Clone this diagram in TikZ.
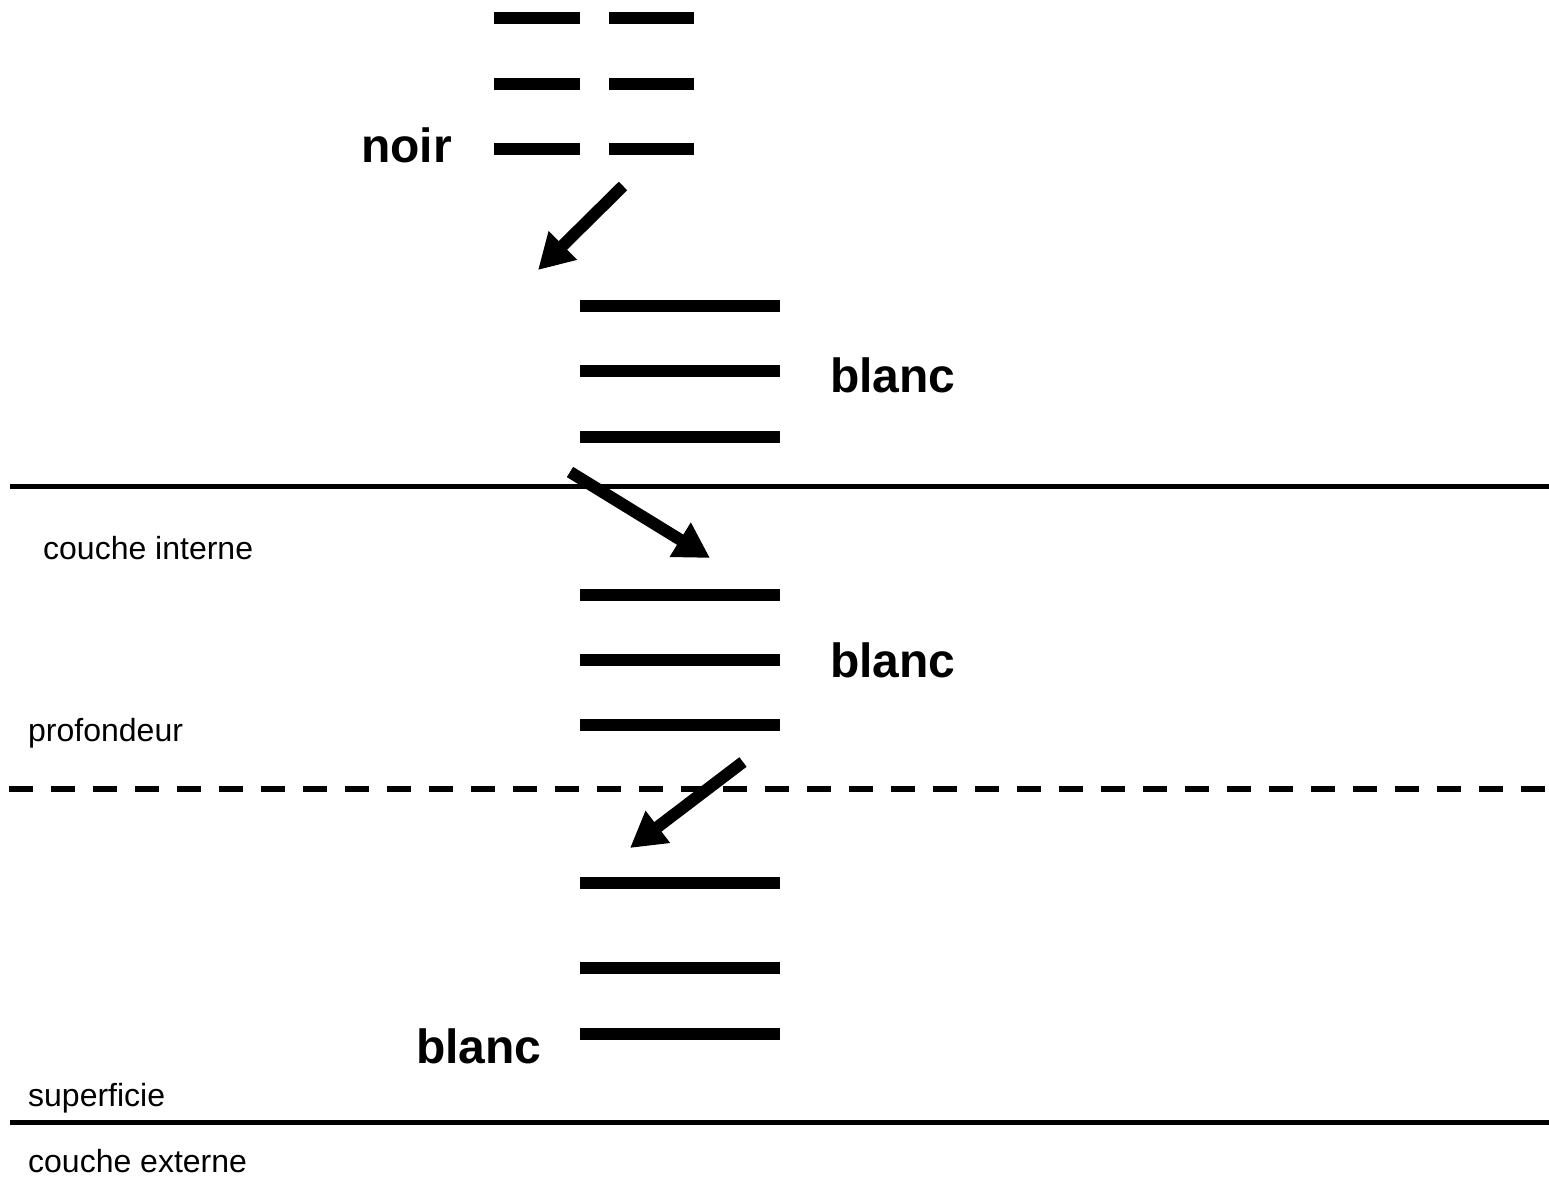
\documentclass[tikz,border=0pt]{standalone}
\usepackage{fontspec}
\setmainfont{Liberation Sans}
\usetikzlibrary{arrows.meta}
\tikzset{
  bar/.style={line width=12pt},
  bigarrow/.style={line width=12pt,-{Triangle[length=35pt,width=38pt]}},
  layerline/.style={line width=5pt},
  biglabel/.style={font=\fontsize{48}{56}\selectfont\bfseries,inner sep=0pt,anchor=base west},
  smalllabel/.style={font=\fontsize{32}{38}\selectfont,inner sep=0pt,anchor=base west}
}
\begin{document}
\begin{tikzpicture}[x=1pt,y=-1pt]
\useasboundingbox (0,0) rectangle (1549,1185);
% top short bars (noir)
\foreach \y in {18,84,149} {
  \draw[bar] (494,\y) -- (580,\y);
  \draw[bar] (609,\y) -- (694,\y);
}
% long bars
\foreach \y in {306,371,437,595,660,725,883,968,1034} {
  \draw[bar] (580,\y) -- (780,\y);
}
% layer lines
\draw[layerline] (10,486) -- (1549,486);
\draw[line width=6pt,dash pattern=on 24pt off 18pt] (9,789) -- (1549,789);
\draw[layerline] (10,1122) -- (1549,1122);
% arrows
\coordinate (a1s) at (623,186);
\coordinate (a1e) at (538,270);
\coordinate (a2s) at (570,472);
\coordinate (a2e) at (710,558);
\coordinate (a3s) at (743,762);
\coordinate (a3e) at (630,848);
\draw[bigarrow] (a1s) -- (a1e);
\draw[bigarrow] (a2s) -- (a2e);
\draw[bigarrow] (a3s) -- (a3e);
% labels
\node[biglabel] (noir) at (361,163) {noir};
\node[biglabel] (blanc1) at (830,392) {blanc};
\node[biglabel] (blanc2) at (830,677) {blanc};
\node[biglabel] (blanc3) at (416,1063) {blanc};
\node[smalllabel] (ci) at (43,559) {couche interne};
\node[smalllabel] (prof) at (28,741) {profondeur};
\node[smalllabel] (sup) at (28,1106) {superficie};
\node[smalllabel] (ce) at (28,1172) {couche externe};
\end{tikzpicture}
\end{document}
